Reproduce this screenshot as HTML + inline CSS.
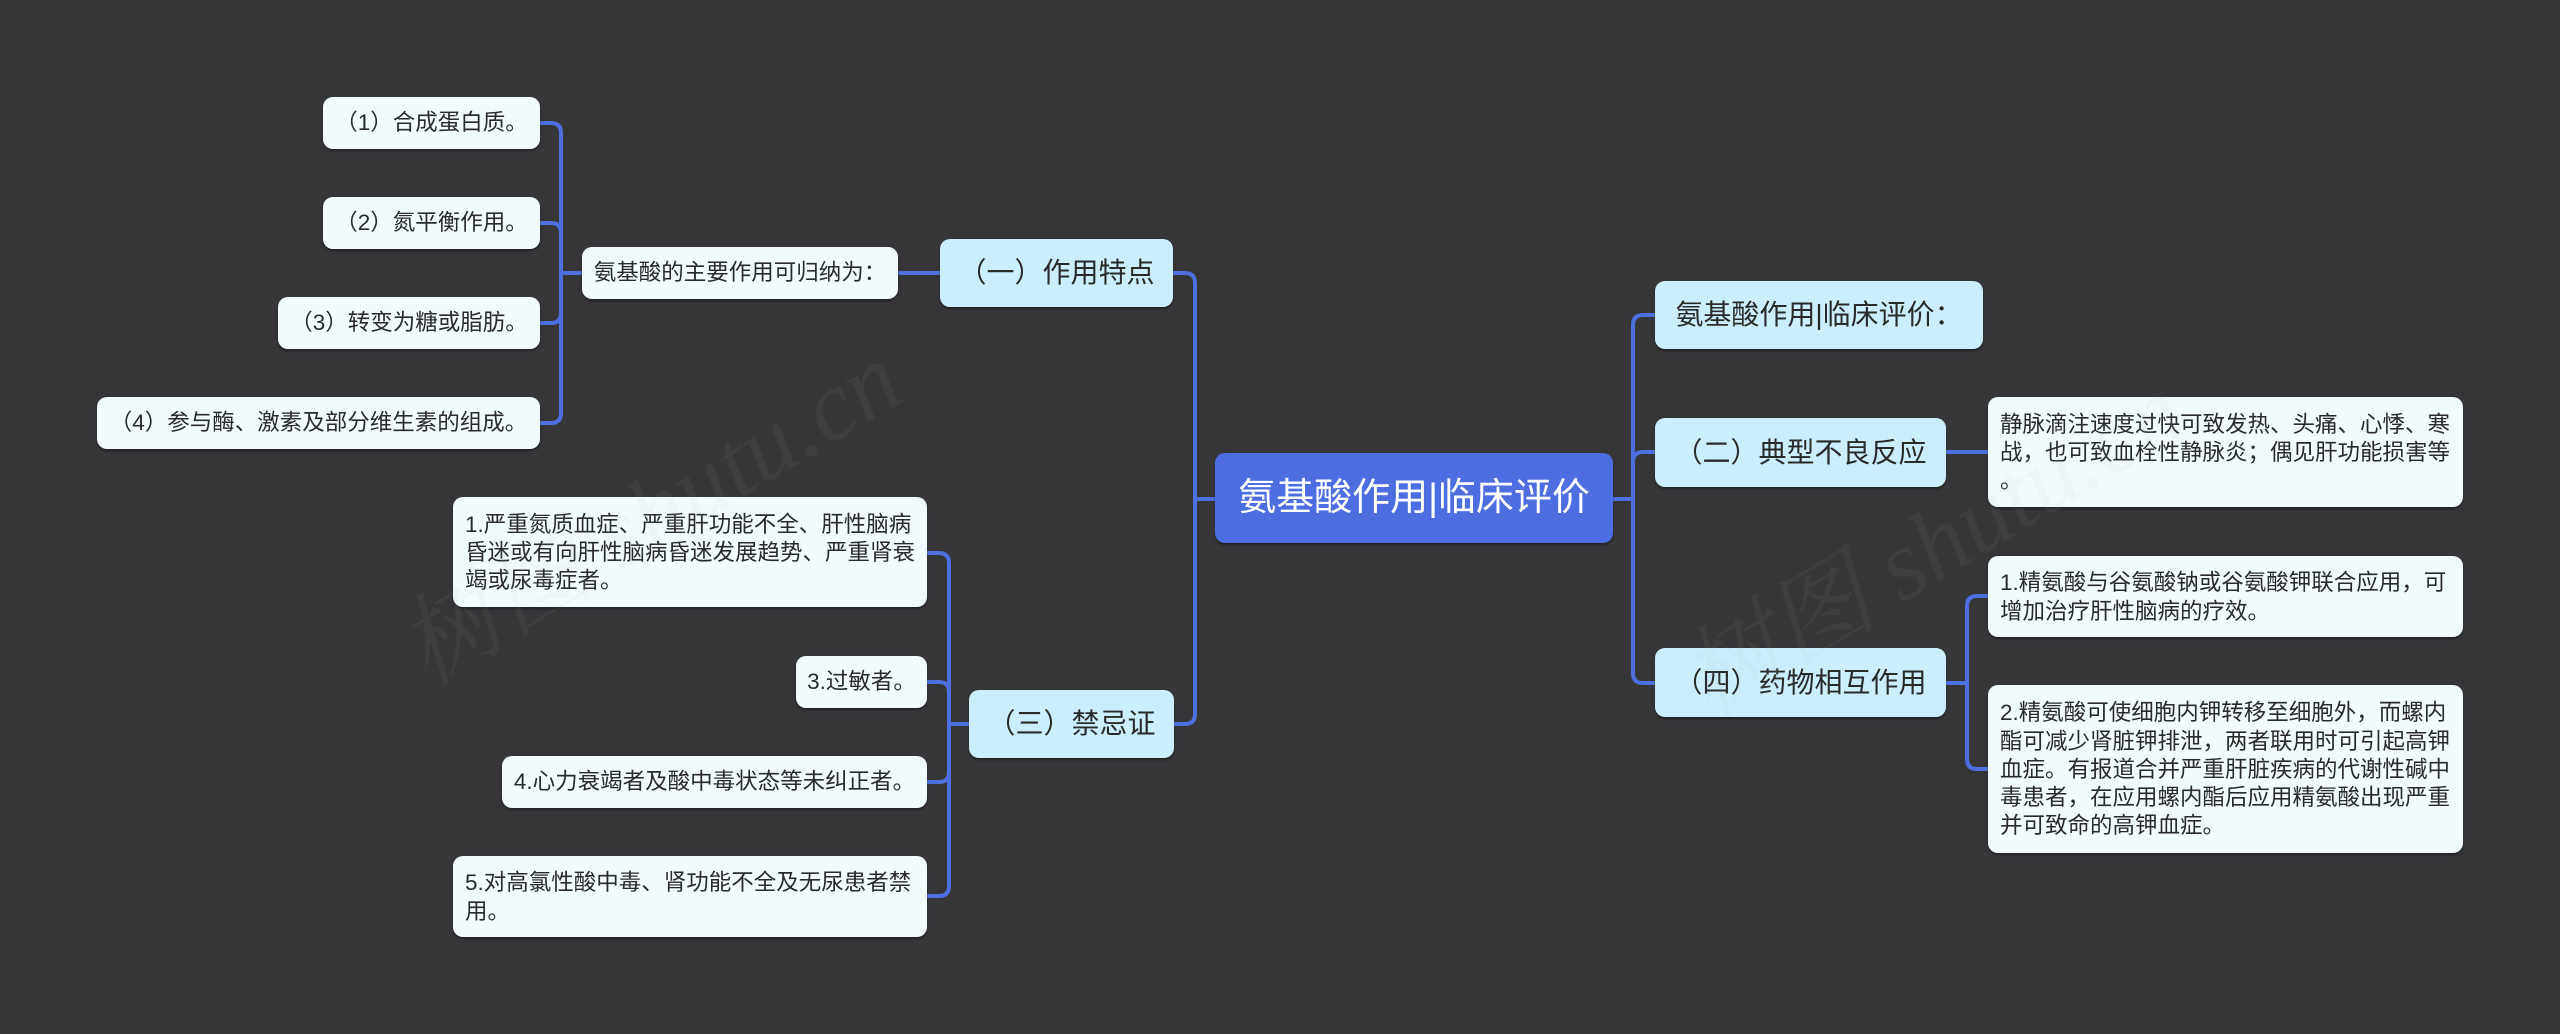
<!DOCTYPE html>
<html>
<head>
<meta charset="utf-8">
<style>
  html, body { margin:0; padding:0; }
  body { width:2560px; height:1034px; background:#363538; position:relative; overflow:hidden;
         font-family:"Liberation Sans","Noto Sans CJK SC",sans-serif; }
  svg.lines { position:absolute; left:0; top:0; }
  .n { position:absolute; box-sizing:border-box; border-radius:10px; display:flex; align-items:center;
       justify-content:center; white-space:nowrap; color:#2a2a2a; box-shadow:0 2px 2px rgba(0,0,0,.35); }
  .leaf { background:#f1fbfd; font-size:22.5px; line-height:28.3px; }
  .ml { justify-content:flex-start; padding-left:12px; padding-top:2px; }
  .l1 { background:#ccedfb; font-size:28px; line-height:34px; }
  .root { background:#4d6ee0; color:#ffffff; font-size:38px; line-height:44px; }
  .wm { position:absolute; font-family:"Liberation Serif","Noto Serif CJK SC",serif; font-style:italic;
        font-size:100px; color:rgba(175,180,180,0.07); white-space:nowrap; pointer-events:none;
        transform:translate(-50%,-50%) rotate(-31deg); }
</style>
</head>
<body>

<svg class="lines" width="2560" height="1034" viewBox="0 0 2560 1034">
  <g fill="none" stroke="#4f6fe0" stroke-width="4">
    <path d="M540 123 H551 Q561 123 561 133 V273 H582"/>
    <path d="M540 223 H551 Q561 223 561 233 V273 H582"/>
    <path d="M540 323 H551 Q561 323 561 313 V273 H582"/>
    <path d="M540 423 H551 Q561 423 561 413 V273 H582"/>
    <path d="M898 273 H940"/>
    <path d="M1173 273 H1185 Q1195 273 1195 283 V499 H1215"/>
    <path d="M1174 724 H1185 Q1195 724 1195 714 V499 H1215"/>
    <path d="M927 553 H939 Q949 553 949 563 V724 H969"/>
    <path d="M927 682 H939 Q949 682 949 692 V724 H969"/>
    <path d="M927 782 H939 Q949 782 949 772 V724 H969"/>
    <path d="M927 896 H939 Q949 896 949 886 V724 H969"/>
    <path d="M1613 499 H1633 V325 Q1633 315 1643 315 H1655"/>
    <path d="M1613 499 H1633 V462 Q1633 452 1643 452 H1655"/>
    <path d="M1613 499 H1633 V673 Q1633 683 1643 683 H1655"/>
    <path d="M1946 452 H1988"/>
    <path d="M1946 683 H1967 V606 Q1967 596 1977 596 H1988"/>
    <path d="M1946 683 H1967 V759 Q1967 769 1977 769 H1988"/>
  </g>
</svg>

<div class="n leaf" style="left:323px;top:97px;width:217px;height:52px;">（1）合成蛋白质。</div>
<div class="n leaf" style="left:323px;top:197px;width:217px;height:52px;">（2）氮平衡作用。</div>
<div class="n leaf" style="left:278px;top:297px;width:262px;height:52px;">（3）转变为糖或脂肪。</div>
<div class="n leaf" style="left:97px;top:397px;width:443px;height:52px;">（4）参与酶、激素及部分维生素的组成。</div>
<div class="n leaf" style="left:582px;top:247px;width:316px;height:52px;">氨基酸的主要作用可归纳为：</div>
<div class="n l1" style="left:940px;top:239px;width:233px;height:68px;">（一）作用特点</div>

<div class="n leaf ml" style="left:453px;top:497px;width:474px;height:110px;"><div>1.严重氮质血症、严重肝功能不全、肝性脑病<br>昏迷或有向肝性脑病昏迷发展趋势、严重肾衰<br>竭或尿毒症者。</div></div>
<div class="n leaf" style="left:796px;top:656px;width:131px;height:52px;">3.过敏者。</div>
<div class="n leaf" style="left:502px;top:756px;width:425px;height:52px;">4.心力衰竭者及酸中毒状态等未纠正者。</div>
<div class="n leaf ml" style="left:453px;top:856px;width:474px;height:81px;"><div>5.对高氯性酸中毒、肾功能不全及无尿患者禁<br>用。</div></div>
<div class="n l1" style="left:969px;top:690px;width:205px;height:68px;">（三）禁忌证</div>

<div class="n root" style="left:1215px;top:453px;width:398px;height:90px;">氨基酸作用|临床评价</div>

<div class="n l1" style="left:1655px;top:281px;width:328px;height:68px;">氨基酸作用|临床评价：</div>
<div class="n l1" style="left:1655px;top:418px;width:291px;height:69px;">（二）典型不良反应</div>
<div class="n l1" style="left:1655px;top:648px;width:291px;height:69px;">（四）药物相互作用</div>
<div class="n leaf ml" style="left:1988px;top:397px;width:475px;height:110px;"><div>静脉滴注速度过快可致发热、头痛、心悸、寒<br>战，也可致血栓性静脉炎；偶见肝功能损害等<br>。</div></div>
<div class="n leaf ml" style="left:1988px;top:556px;width:475px;height:81px;"><div>1.精氨酸与谷氨酸钠或谷氨酸钾联合应用，可<br>增加治疗肝性脑病的疗效。</div></div>
<div class="n leaf ml" style="left:1988px;top:685px;width:475px;height:168px;"><div>2.精氨酸可使细胞内钾转移至细胞外，而螺内<br>酯可减少肾脏钾排泄，两者联用时可引起高钾<br>血症。有报道合并严重肝脏疾病的代谢性碱中<br>毒患者，在应用螺内酯后应用精氨酸出现严重<br>并可致命的高钾血症。</div></div>

<div class="wm" style="left:645px;top:506px;">树图 shutu.cn</div>
<div class="wm" style="left:1927px;top:538px;">树图 shutu.cn</div>

</body>
</html>
